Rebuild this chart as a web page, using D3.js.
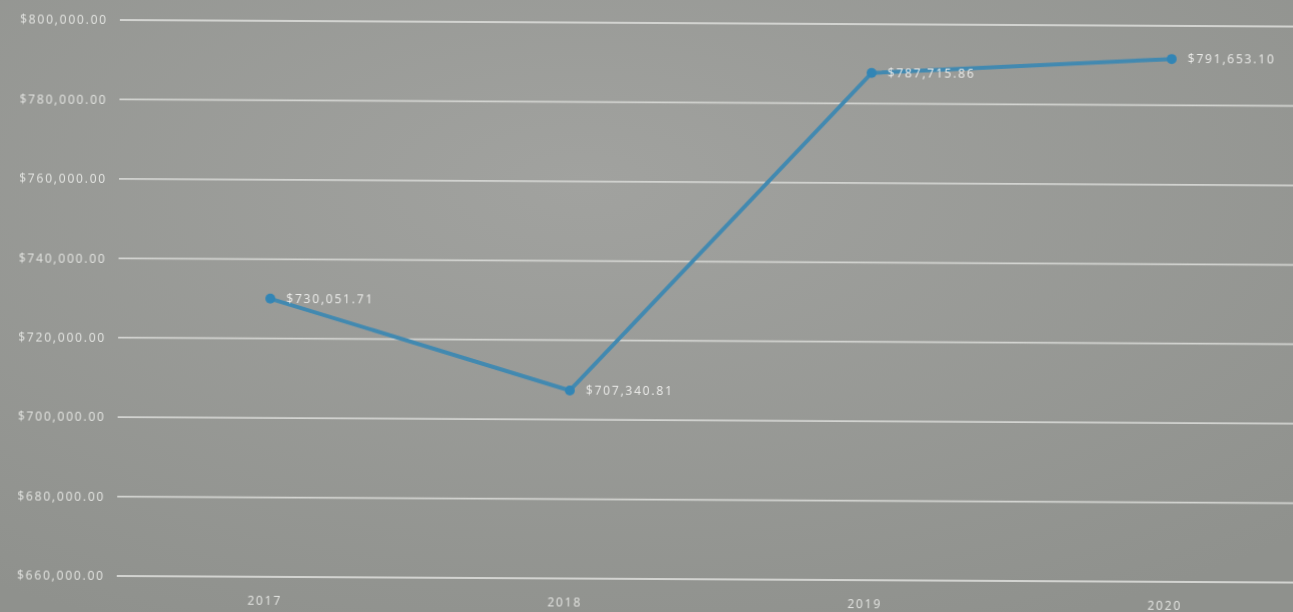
<!DOCTYPE html>
<html>
<head>
<meta charset="utf-8">
<script src="https://cdn.jsdelivr.net/npm/d3@7"></script>
<style>
  html, body { margin: 0; padding: 0; background: #989a96; }
  svg { display: block; }
</style>
</head>
<body>
<svg id="chart" width="1293" height="612"></svg>
<script>
// Yearly totals
const years = ["2017", "2018", "2019", "2020"];
const totals = [730051.71, 707340.81, 787715.86, 791653.10];
const yTicks = [660000, 680000, 700000, 720000, 740000, 760000, 780000, 800000];

const W = 1293, H = 612;
const svg = d3.select("#chart");

// Background with soft shading
const defs = svg.append("defs");
const bg = defs.append("radialGradient").attr("id", "bg")
  .attr("cx", "45%").attr("cy", "30%").attr("r", "80%");
bg.append("stop").attr("offset", "0%").attr("stop-color", "#a1a29f");
bg.append("stop").attr("offset", "100%").attr("stop-color", "#8f918d");
defs.append("filter").attr("id", "soft")
  .append("feGaussianBlur").attr("stdDeviation", 0.5);

svg.append("rect").attr("width", W).attr("height", H).attr("fill", "url(#bg)");

const x = d3.scaleBand().domain(years).range([118, 1318]);
const y = d3.scaleLinear().domain([660000, 800000]).range([576, 20]);

const g = svg.append("g")
  .attr("transform", "rotate(0.32, 120, 0)")
  .attr("filter", "url(#soft)");

const labelStyle = sel => sel
  .style("font-family", "'Open Sans', sans-serif")
  .style("font-size", "12px")
  .style("letter-spacing", "1.8px");

// Horizontal gridlines
g.append("g").selectAll("line").data(yTicks).join("line")
  .attr("x1", 120).attr("x2", 1330)
  .attr("y1", d => y(d)).attr("y2", d => y(d))
  .attr("stroke", "#d2d3d0").attr("stroke-width", 1.8);

// Y axis labels
const fmt = v => "$" + d3.format(",.2f")(v);
const yAxis = d3.axisLeft(y).tickValues(yTicks).tickFormat(fmt).tickSize(0).tickPadding(10);
const ya = g.append("g").attr("transform", "translate(118,0)").call(yAxis);
ya.select(".domain").remove();
ya.selectAll("text").attr("fill", "#e4e5e2").call(labelStyle);

// X axis labels
const xAxis = d3.axisBottom(x).tickSize(0).tickPadding(0);
const xa = g.append("g").attr("transform", "translate(0,595)").call(xAxis);
xa.select(".domain").remove();
xa.selectAll("text").attr("fill", "#e4e5e2").call(labelStyle);

// Line
const pts = years.map((yr, i) => ({ yr, v: totals[i] }));
const cx = d => x(d.yr) + x.bandwidth() / 2 + 4;
const line = d3.line().x(cx).y(d => y(d.v));
g.append("path").datum(pts).attr("d", line)
  .attr("fill", "none").attr("stroke", "#4289b0").attr("stroke-width", 4)
  .attr("stroke-linejoin", "round").attr("stroke-linecap", "round");

// Markers
g.append("g").selectAll("circle").data(pts).join("circle")
  .attr("cx", cx).attr("cy", d => y(d.v)).attr("r", 5)
  .attr("fill", "#3385b5");

// Value labels
g.append("g").selectAll("text").data(pts).join("text")
  .attr("x", d => cx(d) + 16).attr("y", d => y(d.v) + 4)
  .attr("fill", "#ececea").call(labelStyle)
  .text(d => fmt(d.v));
</script>
</body>
</html>
